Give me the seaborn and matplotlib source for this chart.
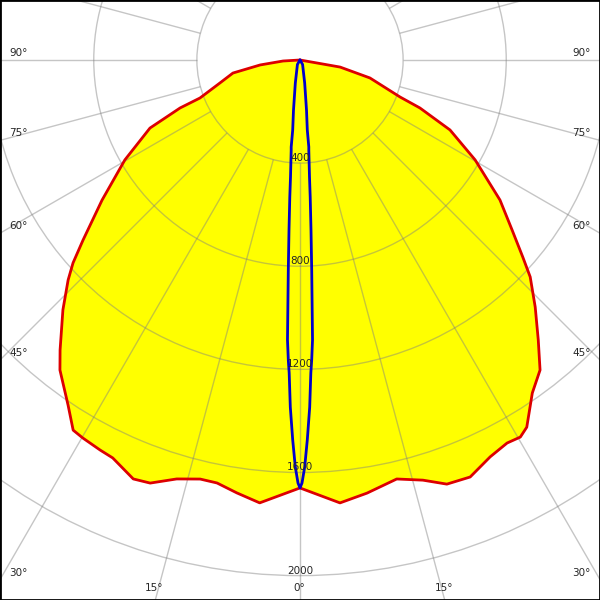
import numpy as np
import pandas as pd
import seaborn as sns
import matplotlib.pyplot as plt
from matplotlib.patches import Rectangle

# Lichtstärkeverteilung (cd) - Ebene rot (breit), links und rechts getrennt
red_left_deg = [90, 86.6, 82.9, 79, 74, 69.2, 68.2, 65.6, 60.3, 54.7, 50.3, 48.2, 46.5,
                43.5, 39.6, 37.75, 33.9, 31.5, 29.9, 27.15, 25.2, 21.7, 19.5, 16.4,
                13.4, 11.1, 8.3, 5.2, 0]
red_left_cd = [0, 66, 156, 265, 323, 415, 501, 639, 782, 941, 1094, 1181, 1240,
               1336, 1460, 1521, 1613, 1684, 1691, 1700, 1706, 1749, 1741, 1694,
               1671, 1672, 1697, 1725, 1660]
red_right_deg = [0, 5.16, 8.8, 13.0, 16.3, 19.1, 22.2, 25.6, 28.4, 30.3, 31.7, 34.9,
                 37.75, 40.4, 43.6, 46.7, 48.5, 51.3, 55, 60.3, 65, 68.2, 69.7, 75.6,
                 80, 90]
red_right_cd = [1660, 1725, 1700, 1668, 1698, 1741, 1747, 1707, 1689, 1694, 1674, 1575,
                1521, 1426, 1323, 1227, 1154, 1054, 947, 782, 642, 501, 414, 280,
                158, 0]

# schmale Ebene blau (symmetrisch)
blue_deg = [0, 0.27, 0.66, 1.1, 1.6, 1.98, 2.23, 2.56, 3.19, 3.7, 4.26, 4.64, 5.58,
            5.78, 5.95, 7.4, 11.5, 30, 90]
blue_cd = [1660, 1641, 1579, 1474, 1347, 1215, 1165, 1087, 816, 661, 533, 455, 351,
           339, 273, 196, 91, 20, 0]

ring_values = [400, 800, 1200, 1600, 2000]
side_angles = [90, 75, 60, 45, 30]
bottom_angles = [15, 0]

# Geometrie (Pixel)
W = 600
cx, cy = 300, 60          # Mittelpunkt des Diagramms
px_per_cd = 0.2578
rmax = 2400

sns.set_style("white")
plt.rcParams["font.family"] = ["DejaVu Sans"]

fig = plt.figure(figsize=(6, 6), dpi=100, facecolor="white")
R = rmax * px_per_cd / W
ax = fig.add_axes([cx / W - R, 1 - cy / W - R, 2 * R, 2 * R], projection="polar")
ax.set_theta_zero_location("S")
ax.set_theta_direction(1)
ax.set_rlim(0, rmax)
ax.spines["polar"].set_visible(False)
ax.set_facecolor("white")

# Kurven aufbauen: links negative Winkel, rechts positive
red = pd.DataFrame({
    "theta": np.radians(np.concatenate([-np.array(red_left_deg), red_right_deg[1:]])),
    "cd": np.concatenate([red_left_cd, red_right_cd[1:]]),
})
b_deg = np.array(blue_deg)
blue = pd.DataFrame({
    "theta": np.radians(np.concatenate([-b_deg[::-1], b_deg[1:]])),
    "cd": np.concatenate([np.array(blue_cd)[::-1], blue_cd[1:]]),
})

ax.fill(red["theta"], red["cd"], color="#ffff00", zorder=1, lw=0)

# Raster
grid_col = (0.5, 0.5, 0.5)
ax.set_axisbelow(False)
ax.set_rticks(ring_values)
ax.set_xticks([])
ax.set_yticklabels([])
ax.xaxis.grid(False)
ax.yaxis.grid(True, color=grid_col, alpha=0.45, lw=1)
ax.vlines(np.radians(np.arange(0, 360, 15)), ring_values[0], rmax,
          colors=[grid_col], alpha=0.45, lw=1, zorder=2.5)

sns.lineplot(data=red, x="theta", y="cd", sort=False, estimator=None, ax=ax,
             color="#dd0000", lw=2, zorder=3)
sns.lineplot(data=blue, x="theta", y="cd", sort=False, estimator=None, ax=ax,
             color="#0000cc", lw=2, zorder=3)
ax.set_xlabel("")
ax.set_ylabel("")
ax.set_rlim(0, rmax)

# Ringbeschriftung
for v in ring_values:
    ax.text(0, v, str(v), ha="center", va="bottom", fontsize=7.5, zorder=5)

# Winkelbeschriftung am Bildrand
for a in side_angles:
    y_px = cy + cx / np.tan(np.radians(a)) if a < 90 else cy
    yf = 1 - (y_px - 7) / W
    fig.text(9 / W, yf, f"{a}°", ha="left", va="center", fontsize=7.5)
    fig.text(1 - 9 / W, yf, f"{a}°", ha="right", va="center", fontsize=7.5)
for a in bottom_angles:
    dx = (W - cy) * np.tan(np.radians(a))
    for x_px in {cx - dx, cx + dx}:
        fig.text((x_px - 1) / W, 1 - 588 / W, f"{a}°", ha="center", va="center", fontsize=7.5)

fig.patches.append(Rectangle((0, 0), 1, 1, transform=fig.transFigure, fill=False,
                             ec="black", lw=2))

fig.savefig("out.png", dpi=100, facecolor="white")
